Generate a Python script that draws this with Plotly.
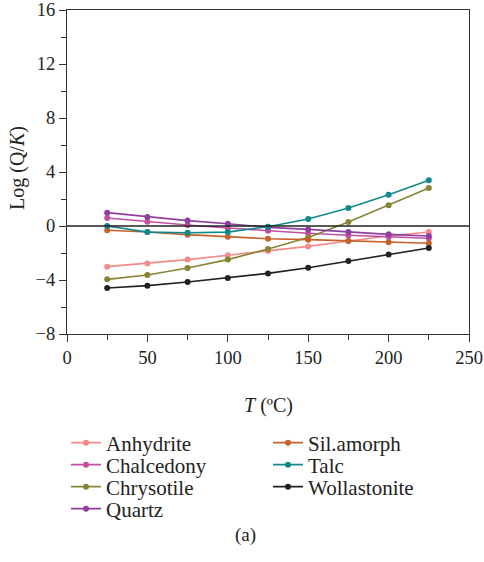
import plotly.graph_objects as go

T = [25, 50, 75, 100, 125, 150, 175, 200, 225]
anhydrite = [-3.01, -2.77, -2.49, -2.17, -1.85, -1.51, -1.11, -0.74, -0.44]
chalcedony = [0.59, 0.32, 0.07, -0.15, -0.35, -0.54, -0.69, -0.81, -0.91]
chrysotile = [-3.95, -3.63, -3.11, -2.49, -1.70, -0.86, 0.30, 1.53, 2.81]
quartz = [0.99, 0.67, 0.40, 0.17, -0.10, -0.25, -0.44, -0.62, -0.74]
sil_amorph = [-0.32, -0.44, -0.64, -0.79, -0.94, -1.01, -1.11, -1.21, -1.28]
talc = [0.00, -0.45, -0.50, -0.45, -0.05, 0.52, 1.33, 2.32, 3.38]
wollastonite = [-4.59, -4.42, -4.15, -3.85, -3.51, -3.09, -2.59, -2.12, -1.63]

names = ["Anhydrite", "Chalcedony", "Chrysotile", "Quartz", "Sil.amorph", "Talc", "Wollastonite"]
values = [anhydrite, chalcedony, chrysotile, quartz, sil_amorph, talc, wollastonite]
colors = ["#F48A8A", "#C24FA2", "#878534", "#8E3E9E", "#C6622B", "#11898A", "#222222"]
# legend placement (column x, row center y) in pixels
leg_pos = [(66, 443), (66, 465), (66, 487), (66, 509), (268, 443), (268, 465), (268, 487)]

FONT = "Liberation Serif"
TXT = "#222222"
fig = go.Figure()
legend_layouts = {}
for i, (name, vals, col) in enumerate(zip(names, values, colors)):
    key = "legend" if i == 0 else f"legend{i + 1}"
    fig.add_trace(go.Scatter(
        x=T, y=vals, name=name, mode="lines+markers",
        line=dict(color=col, width=1.6),
        marker=dict(color=col, size=6),
        legend=key, showlegend=True,
    ))
    px, py = leg_pos[i]
    legend_layouts[key] = dict(
        xref="container", yref="container", x=px / 484, y=1 - py / 562,
        xanchor="left", yanchor="middle", font=dict(family=FONT, size=21, color=TXT),
        itemwidth=30, bgcolor="rgba(0,0,0,0)", visible=True,
    )

axis_common = dict(
    showgrid=False, showline=True, linecolor="#333333", linewidth=1.3,
    mirror=True, ticks="outside", ticklen=7, tickwidth=1.3, tickcolor="#333333",
    tickfont=dict(family=FONT, size=18.5, color=TXT),
    zeroline=False,
)

fig.update_xaxes(
    range=[0, 250], dtick=50, tick0=0,
    minor=dict(ticks="outside", ticklen=5, dtick=25, tick0=0, tickcolor="#333333", tickwidth=1.2),
    **axis_common,
)
fig.update_yaxes(
    range=[-8, 16], dtick=4, tick0=0,
    minor=dict(ticks="outside", ticklen=5, dtick=2, tick0=0, tickcolor="#333333", tickwidth=1.2),
    **axis_common,
)

fig.add_shape(type="line", xref="paper", x0=0, x1=1, yref="y", y0=0, y1=0,
              line=dict(color="#222222", width=1.3))

fig.update_layout(
    width=484, height=562,
    margin=dict(l=67, r=15, t=10, b=228, autoexpand=False),
    plot_bgcolor="white", paper_bgcolor="white",
    font=dict(family=FONT),
    showlegend=True,
    annotations=[
        dict(text="Log (Q/<i>K</i>)", xref="paper", yref="paper",
             x=(18 - 67) / 402, y=(334 - 168) / 324, xanchor="center", yanchor="middle",
             textangle=-90, showarrow=False, font=dict(family=FONT, size=20, color=TXT)),
        dict(text="<i>T</i> (ºC)", xref="paper", yref="paper",
             x=(268 - 67) / 402, y=(334 - 405) / 324, xanchor="center", yanchor="middle",
             showarrow=False, font=dict(family=FONT, size=20, color=TXT)),
        dict(text="(a)", xref="paper", yref="paper",
             x=(245 - 67) / 402, y=(334 - 535) / 324, xanchor="center", yanchor="middle",
             showarrow=False, font=dict(family=FONT, size=19, color=TXT)),
    ],
    **legend_layouts,
)

fig.write_html("out.html")
